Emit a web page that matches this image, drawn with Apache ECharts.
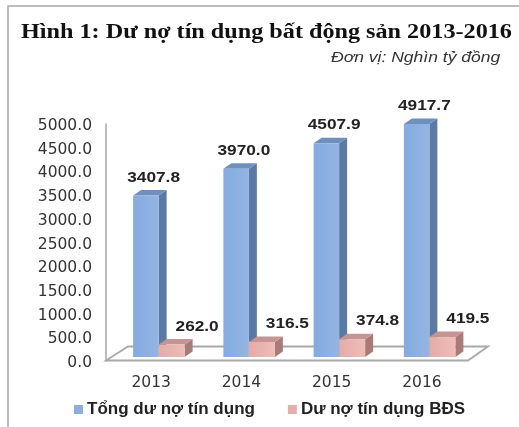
<!DOCTYPE html>
<html><head><meta charset="utf-8">
<style>html,body{margin:0;padding:0;background:#fff}#c{width:519px;height:427px;filter:blur(0.6px)}</style>
<script src="https://cdn.jsdelivr.net/npm/echarts@6/dist/echarts.min.js"></script></head>
<body><div id="c"></div>
<script>
const years = ['2013','2014','2015','2016'];
const totalCredit = [3407.8,3970.0,4507.9,4917.7];
const realEstateCredit = [262.0,316.5,374.8,419.5];
const titleText = 'Hình 1: Dư nợ tín dụng bất động sản 2013-2016';
const unitText = 'Đơn vị: Nghìn tỷ đồng';
const chart = echarts.init(document.getElementById('c'));
function bar3d(cfg){
  return function(params, api){
    const cat = api.value(0), v = api.value(1);
    const base = api.coord([cat,0]), top = api.coord([cat,v]);
    const lift = 4, dx = 8, dy = 5.5;
    const x0 = base[0]+cfg.off, x1 = x0+cfg.w, yb = base[1]-lift, yt = top[1]-lift;
    const poly=(pts,fill)=>({type:'polygon',shape:{points:pts},style:{fill:fill}});
    return {type:'group',children:[
      poly([[x1,yt],[x1+dx,yt-dy],[x1+dx,yb-dy],[x1,yb]],cfg.side),
      poly([[x0,yt],[x0+dx,yt-dy],[x1+dx,yt-dy],[x1,yt]],cfg.top),
      {type:'rect',shape:{x:x0,y:yt,width:cfg.w,height:yb-yt},style:{fill:{type:'linear',x:0,y:0,x2:1,y2:0,colorStops:[{offset:0,color:cfg.f0},{offset:1,color:cfg.f1}]}}},
      {type:'text',x:base[0]+cfg.lx,y:yt+cfg.ly,scaleX:1.15,style:{text:v.toFixed(1),fill:'#222',font:'bold 15px "Liberation Sans"',align:'center',verticalAlign:'middle'}}
    ]};
  };
}
chart.setOption({
  animation:false,
  backgroundColor:'#fff',
  grid:{left:106,right:52,top:124,bottom:66,containLabel:false},
  legend:{left:69,top:396,itemWidth:9,itemHeight:9,itemGap:33,icon:'rect',
    textStyle:{fontFamily:'Liberation Sans',fontWeight:'bold',fontSize:17,color:'#222',padding:[0,0,0,-1]},
    data:['Tổng dư nợ tín dụng','Dư nợ tín dụng BĐS']},
  xAxis:{type:'category',data:years,axisLine:{show:false},axisTick:{show:false},
    axisLabel:{margin:14,fontFamily:'DejaVu Sans',fontSize:15.5,color:'#333'}},
  yAxis:{type:'value',min:0,max:5000,interval:500,splitLine:{show:false},
    axisLine:{show:true,lineStyle:{color:'#a6a6a6',width:1.5}},
    axisTick:{show:false},
    axisLabel:{margin:14,fontFamily:'DejaVu Sans',fontSize:15.5,color:'#333',verticalAlign:'top',lineHeight:4,formatter:v=>v.toFixed(1)}},
  graphic:[
    {type:'polyline',shape:{points:[[519,6],[8,6],[8,427]]},style:{stroke:'#a8a8a8',lineWidth:1.5,fill:null}},
    {type:'text',x:21,y:32,scaleX:1.12,style:{text:titleText,font:'bold 21.6px "Liberation Serif"',fill:'#111',verticalAlign:'middle'}},
    {type:'text',x:331,y:58,scaleX:1.2,style:{text:unitText,font:'italic 14.6px "Liberation Sans"',fill:'#333',verticalAlign:'middle'}},
    {type:'polygon',shape:{points:[[106,360.5],[468,360.5],[488,346.5],[128,346.5]]},style:{fill:'#fff',stroke:'#a8a8a8',lineWidth:1.8}}
  ],
  series:[
    {name:'Tổng dư nợ tín dụng',type:'custom',itemStyle:{color:'#8aaee0'},clip:false,z:3,
     encode:{x:0,y:1},data:years.map((y,i)=>[i,totalCredit[i]]),
     renderItem:bar3d({off:-18,w:25.5,side:'#5a7aa5',top:'#6f8fbd',f0:'#85aadf',f1:'#93b5e3',lx:2.5,ly:-18})},
    {name:'Dư nợ tín dụng BĐS',type:'custom',itemStyle:{color:'#e6b0aa'},clip:false,z:4,
     encode:{x:0,y:1},data:years.map((y,i)=>[i,realEstateCredit[i]]),
     renderItem:bar3d({off:7.5,w:26,side:'#a97b78',top:'#c49593',f0:'#e3aca8',f1:'#efbcb8',lx:46,ly:-18})}
  ]
});
</script></body></html>
